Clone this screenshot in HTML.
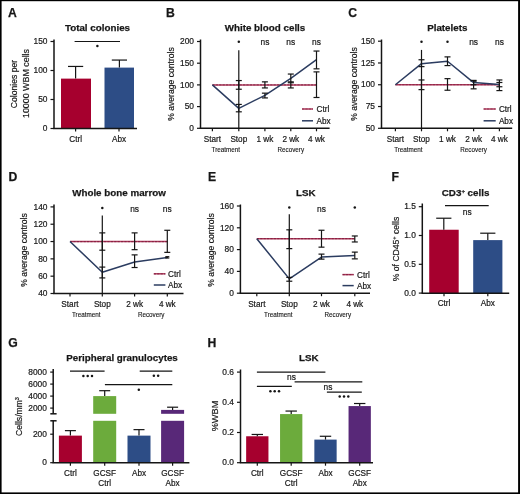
<!DOCTYPE html><html><head><meta charset="utf-8"><style>html,body{margin:0;padding:0;background:#fff}svg{display:block;will-change:transform;font-family:"Liberation Sans",sans-serif} text{stroke:#222;stroke-width:0.2px} text.sub{stroke-width:0.12px} text[font-weight=bold]{stroke-width:0.25px}</style></head><body><svg width="520" height="494" viewBox="0 0 520 494" font-family="Liberation Sans, sans-serif">
<rect x="0.00" y="0.00" width="520.00" height="494.00" fill="#fff"/>
<rect x="0.00" y="0.00" width="520.00" height="1.20" fill="#000"/>
<rect x="0.00" y="0.00" width="1.60" height="494.00" fill="#000"/>
<rect x="518.10" y="0.00" width="1.90" height="494.00" fill="#000"/>
<rect x="0.00" y="492.40" width="520.00" height="1.60" fill="#000"/>
<text x="8.00" y="16.60" font-size="12.2" text-anchor="start" font-weight="bold" fill="#151515" >A</text>
<text x="97.50" y="30.80" font-size="9.8" text-anchor="middle" font-weight="bold" fill="#151515" >Total colonies</text>
<line x1="54.00" y1="39.50" x2="54.00" y2="128.50" stroke="#151515" stroke-width="1.5" />
<line x1="50.50" y1="41.50" x2="54.00" y2="41.50" stroke="#151515" stroke-width="1.2" />
<text x="47.50" y="44.20" font-size="8.4" text-anchor="end" fill="#151515" >150</text>
<line x1="50.50" y1="70.50" x2="54.00" y2="70.50" stroke="#151515" stroke-width="1.2" />
<text x="47.50" y="73.20" font-size="8.4" text-anchor="end" fill="#151515" >100</text>
<line x1="50.50" y1="99.50" x2="54.00" y2="99.50" stroke="#151515" stroke-width="1.2" />
<text x="47.50" y="102.20" font-size="8.4" text-anchor="end" fill="#151515" >50</text>
<line x1="50.50" y1="128.50" x2="54.00" y2="128.50" stroke="#151515" stroke-width="1.2" />
<text x="47.50" y="131.20" font-size="8.4" text-anchor="end" fill="#151515" >0</text>
<rect x="61.00" y="78.62" width="30.00" height="49.88" fill="#a6002e"/>
<rect x="104.50" y="67.60" width="29.50" height="60.90" fill="#2d4d86"/>
<line x1="75.60" y1="78.62" x2="75.60" y2="66.44" stroke="#151515" stroke-width="1.2" />
<line x1="68.00" y1="66.44" x2="83.20" y2="66.44" stroke="#151515" stroke-width="1.2" />
<line x1="119.40" y1="67.60" x2="119.40" y2="60.06" stroke="#151515" stroke-width="1.2" />
<line x1="111.80" y1="60.06" x2="127.00" y2="60.06" stroke="#151515" stroke-width="1.2" />
<line x1="53.30" y1="128.50" x2="137.00" y2="128.50" stroke="#151515" stroke-width="1.5" />
<line x1="75.60" y1="128.50" x2="75.60" y2="131.50" stroke="#151515" stroke-width="1.2" />
<line x1="119.00" y1="128.50" x2="119.00" y2="131.50" stroke="#151515" stroke-width="1.2" />
<line x1="74.60" y1="41.50" x2="120.00" y2="41.50" stroke="#151515" stroke-width="1.2" />
<circle cx="97.40" cy="46.00" r="1.25" fill="#151515"/>
<text x="75.60" y="141.50" font-size="8.2" text-anchor="middle" fill="#151515" >Ctrl</text>
<text x="119.00" y="141.50" font-size="8.2" text-anchor="middle" fill="#151515" >Abx</text>
<text transform="translate(17.00,84.00) rotate(-90)" font-size="8.6" text-anchor="middle" fill="#151515">Colonies per</text>
<text transform="translate(29.20,83.50) rotate(-90)" font-size="8.9" text-anchor="middle" fill="#151515">10000 WBM cells</text>
<text x="166.00" y="16.60" font-size="12.2" text-anchor="start" font-weight="bold" fill="#151515" >B</text>
<text x="265.00" y="30.80" font-size="9.8" text-anchor="middle" font-weight="bold" fill="#151515" >White blood cells</text>
<line x1="200.50" y1="39.50" x2="200.50" y2="128.30" stroke="#151515" stroke-width="1.5" />
<line x1="197.00" y1="41.50" x2="200.50" y2="41.50" stroke="#151515" stroke-width="1.2" />
<text x="194.00" y="44.20" font-size="8.4" text-anchor="end" fill="#151515" >200</text>
<line x1="197.00" y1="63.20" x2="200.50" y2="63.20" stroke="#151515" stroke-width="1.2" />
<text x="194.00" y="65.90" font-size="8.4" text-anchor="end" fill="#151515" >150</text>
<line x1="197.00" y1="84.90" x2="200.50" y2="84.90" stroke="#151515" stroke-width="1.2" />
<text x="194.00" y="87.60" font-size="8.4" text-anchor="end" fill="#151515" >100</text>
<line x1="197.00" y1="106.60" x2="200.50" y2="106.60" stroke="#151515" stroke-width="1.2" />
<text x="194.00" y="109.30" font-size="8.4" text-anchor="end" fill="#151515" >50</text>
<line x1="197.00" y1="128.30" x2="200.50" y2="128.30" stroke="#151515" stroke-width="1.2" />
<text x="194.00" y="131.00" font-size="8.4" text-anchor="end" fill="#151515" >0</text>
<line x1="199.80" y1="128.30" x2="329.60" y2="128.30" stroke="#151515" stroke-width="1.5" />
<line x1="212.40" y1="128.30" x2="212.40" y2="131.30" stroke="#151515" stroke-width="1.2" />
<line x1="238.80" y1="128.30" x2="238.80" y2="131.30" stroke="#151515" stroke-width="1.2" />
<line x1="264.90" y1="128.30" x2="264.90" y2="131.30" stroke="#151515" stroke-width="1.2" />
<line x1="290.80" y1="128.30" x2="290.80" y2="131.30" stroke="#151515" stroke-width="1.2" />
<line x1="316.50" y1="128.30" x2="316.50" y2="131.30" stroke="#151515" stroke-width="1.2" />
<line x1="212.40" y1="84.90" x2="316.50" y2="84.90" stroke="#b03a5c" stroke-width="1.5" />
<line x1="212.40" y1="84.90" x2="316.50" y2="84.90" stroke="#6a1030" stroke-width="1.2000000000000002" stroke-dasharray="2.2 1.2" opacity="0.55"/>
<line x1="238.80" y1="50.18" x2="238.80" y2="128.30" stroke="#151515" stroke-width="1.2" />
<line x1="238.80" y1="80.56" x2="238.80" y2="89.24" stroke="#151515" stroke-width="1.2" />
<line x1="235.80" y1="80.56" x2="241.80" y2="80.56" stroke="#151515" stroke-width="1.2" />
<line x1="235.80" y1="89.24" x2="241.80" y2="89.24" stroke="#151515" stroke-width="1.2" />
<line x1="264.90" y1="81.86" x2="264.90" y2="87.94" stroke="#151515" stroke-width="1.2" />
<line x1="261.90" y1="81.86" x2="267.90" y2="81.86" stroke="#151515" stroke-width="1.2" />
<line x1="261.90" y1="87.94" x2="267.90" y2="87.94" stroke="#151515" stroke-width="1.2" />
<line x1="290.80" y1="81.86" x2="290.80" y2="87.94" stroke="#151515" stroke-width="1.2" />
<line x1="287.80" y1="81.86" x2="293.80" y2="81.86" stroke="#151515" stroke-width="1.2" />
<line x1="287.80" y1="87.94" x2="293.80" y2="87.94" stroke="#151515" stroke-width="1.2" />
<line x1="316.50" y1="71.88" x2="316.50" y2="97.49" stroke="#151515" stroke-width="1.2" />
<line x1="313.50" y1="71.88" x2="319.50" y2="71.88" stroke="#151515" stroke-width="1.2" />
<line x1="313.50" y1="97.49" x2="319.50" y2="97.49" stroke="#151515" stroke-width="1.2" />
<polyline points="212.40,84.90 238.80,108.34 264.90,95.32 290.80,78.39 316.50,59.73" fill="none" stroke="#2b3c60" stroke-width="1.5" stroke-linejoin="round"/>
<line x1="238.80" y1="104.43" x2="238.80" y2="111.81" stroke="#151515" stroke-width="1.2" />
<line x1="235.80" y1="104.43" x2="241.80" y2="104.43" stroke="#151515" stroke-width="1.2" />
<line x1="235.80" y1="111.81" x2="241.80" y2="111.81" stroke="#151515" stroke-width="1.2" />
<line x1="264.90" y1="93.15" x2="264.90" y2="97.92" stroke="#151515" stroke-width="1.2" />
<line x1="261.90" y1="93.15" x2="267.90" y2="93.15" stroke="#151515" stroke-width="1.2" />
<line x1="261.90" y1="97.92" x2="267.90" y2="97.92" stroke="#151515" stroke-width="1.2" />
<line x1="290.80" y1="74.05" x2="290.80" y2="82.73" stroke="#151515" stroke-width="1.2" />
<line x1="287.80" y1="74.05" x2="293.80" y2="74.05" stroke="#151515" stroke-width="1.2" />
<line x1="287.80" y1="82.73" x2="293.80" y2="82.73" stroke="#151515" stroke-width="1.2" />
<line x1="316.50" y1="51.05" x2="316.50" y2="68.84" stroke="#151515" stroke-width="1.2" />
<line x1="313.50" y1="51.05" x2="319.50" y2="51.05" stroke="#151515" stroke-width="1.2" />
<line x1="313.50" y1="68.84" x2="319.50" y2="68.84" stroke="#151515" stroke-width="1.2" />
<circle cx="238.80" cy="41.80" r="1.25" fill="#151515"/>
<text x="264.90" y="45.00" font-size="8.4" text-anchor="middle" fill="#151515" >ns</text>
<text x="290.80" y="45.00" font-size="8.4" text-anchor="middle" fill="#151515" >ns</text>
<text x="316.50" y="45.00" font-size="8.4" text-anchor="middle" fill="#151515" >ns</text>
<text x="212.40" y="141.50" font-size="8.2" text-anchor="middle" fill="#151515" >Start</text>
<text x="238.80" y="141.50" font-size="8.2" text-anchor="middle" fill="#151515" >Stop</text>
<text x="264.90" y="141.50" font-size="8.2" text-anchor="middle" fill="#151515" >1 wk</text>
<text x="290.80" y="141.50" font-size="8.2" text-anchor="middle" fill="#151515" >2 wk</text>
<text x="316.50" y="141.50" font-size="8.2" text-anchor="middle" fill="#151515" >4 wk</text>
<text x="225.80" y="152.30" font-size="6.3" text-anchor="middle" fill="#151515"  class="sub">Treatment</text>
<text x="290.80" y="152.30" font-size="6.3" text-anchor="middle" fill="#151515"  class="sub">Recovery</text>
<line x1="302.00" y1="109.00" x2="313.00" y2="109.00" stroke="#b03a5c" stroke-width="1.5" />
<line x1="302.00" y1="109.00" x2="313.00" y2="109.00" stroke="#6a1030" stroke-width="1.2000000000000002" stroke-dasharray="2.2 1.2" opacity="0.55"/>
<text x="316.50" y="112.00" font-size="8.2" text-anchor="start" fill="#151515" >Ctrl</text>
<line x1="302.00" y1="120.80" x2="313.00" y2="120.80" stroke="#2b3c60" stroke-width="1.5" />
<text x="316.50" y="123.80" font-size="8.2" text-anchor="start" fill="#151515" >Abx</text>
<text transform="translate(174.00,84.00) rotate(-90)" font-size="8.6" text-anchor="middle" fill="#151515">% average controls</text>
<text x="348.30" y="16.60" font-size="12.2" text-anchor="start" font-weight="bold" fill="#151515" >C</text>
<text x="447.30" y="30.80" font-size="9.8" text-anchor="middle" font-weight="bold" fill="#151515" >Platelets</text>
<line x1="381.50" y1="39.50" x2="381.50" y2="128.30" stroke="#151515" stroke-width="1.5" />
<line x1="378.00" y1="41.20" x2="381.50" y2="41.20" stroke="#151515" stroke-width="1.2" />
<text x="375.00" y="43.90" font-size="8.4" text-anchor="end" fill="#151515" >150</text>
<line x1="378.00" y1="62.98" x2="381.50" y2="62.98" stroke="#151515" stroke-width="1.2" />
<text x="375.00" y="65.68" font-size="8.4" text-anchor="end" fill="#151515" >125</text>
<line x1="378.00" y1="84.75" x2="381.50" y2="84.75" stroke="#151515" stroke-width="1.2" />
<text x="375.00" y="87.45" font-size="8.4" text-anchor="end" fill="#151515" >100</text>
<line x1="378.00" y1="106.53" x2="381.50" y2="106.53" stroke="#151515" stroke-width="1.2" />
<text x="375.00" y="109.23" font-size="8.4" text-anchor="end" fill="#151515" >75</text>
<line x1="378.00" y1="128.30" x2="381.50" y2="128.30" stroke="#151515" stroke-width="1.2" />
<text x="375.00" y="131.00" font-size="8.4" text-anchor="end" fill="#151515" >50</text>
<line x1="380.80" y1="128.30" x2="512.20" y2="128.30" stroke="#151515" stroke-width="1.5" />
<line x1="395.40" y1="128.30" x2="395.40" y2="131.30" stroke="#151515" stroke-width="1.2" />
<line x1="421.50" y1="128.30" x2="421.50" y2="131.30" stroke="#151515" stroke-width="1.2" />
<line x1="447.50" y1="128.30" x2="447.50" y2="131.30" stroke="#151515" stroke-width="1.2" />
<line x1="473.60" y1="128.30" x2="473.60" y2="131.30" stroke="#151515" stroke-width="1.2" />
<line x1="499.40" y1="128.30" x2="499.40" y2="131.30" stroke="#151515" stroke-width="1.2" />
<line x1="395.40" y1="84.75" x2="499.40" y2="84.75" stroke="#b03a5c" stroke-width="1.5" />
<line x1="395.40" y1="84.75" x2="499.40" y2="84.75" stroke="#6a1030" stroke-width="1.2000000000000002" stroke-dasharray="2.2 1.2" opacity="0.55"/>
<line x1="421.50" y1="49.91" x2="421.50" y2="128.30" stroke="#151515" stroke-width="1.2" />
<line x1="421.50" y1="79.96" x2="421.50" y2="89.63" stroke="#151515" stroke-width="1.2" />
<line x1="418.50" y1="79.96" x2="424.50" y2="79.96" stroke="#151515" stroke-width="1.2" />
<line x1="418.50" y1="89.63" x2="424.50" y2="89.63" stroke="#151515" stroke-width="1.2" />
<line x1="447.50" y1="78.65" x2="447.50" y2="90.24" stroke="#151515" stroke-width="1.2" />
<line x1="444.50" y1="78.65" x2="450.50" y2="78.65" stroke="#151515" stroke-width="1.2" />
<line x1="444.50" y1="90.24" x2="450.50" y2="90.24" stroke="#151515" stroke-width="1.2" />
<line x1="473.60" y1="81.27" x2="473.60" y2="88.84" stroke="#151515" stroke-width="1.2" />
<line x1="470.60" y1="81.27" x2="476.60" y2="81.27" stroke="#151515" stroke-width="1.2" />
<line x1="470.60" y1="88.84" x2="476.60" y2="88.84" stroke="#151515" stroke-width="1.2" />
<line x1="499.40" y1="79.96" x2="499.40" y2="90.59" stroke="#151515" stroke-width="1.2" />
<line x1="496.40" y1="79.96" x2="502.40" y2="79.96" stroke="#151515" stroke-width="1.2" />
<line x1="496.40" y1="90.59" x2="502.40" y2="90.59" stroke="#151515" stroke-width="1.2" />
<polyline points="395.40,84.75 421.50,63.67 447.50,61.23 473.60,82.57 499.40,84.58" fill="none" stroke="#2b3c60" stroke-width="1.5" stroke-linejoin="round"/>
<line x1="421.50" y1="59.75" x2="421.50" y2="66.63" stroke="#151515" stroke-width="1.2" />
<line x1="418.50" y1="59.75" x2="424.50" y2="59.75" stroke="#151515" stroke-width="1.2" />
<line x1="418.50" y1="66.63" x2="424.50" y2="66.63" stroke="#151515" stroke-width="1.2" />
<line x1="447.50" y1="56.88" x2="447.50" y2="65.59" stroke="#151515" stroke-width="1.2" />
<line x1="444.50" y1="56.88" x2="450.50" y2="56.88" stroke="#151515" stroke-width="1.2" />
<line x1="444.50" y1="65.59" x2="450.50" y2="65.59" stroke="#151515" stroke-width="1.2" />
<line x1="473.60" y1="80.40" x2="473.60" y2="84.75" stroke="#151515" stroke-width="1.2" />
<line x1="470.60" y1="80.40" x2="476.60" y2="80.40" stroke="#151515" stroke-width="1.2" />
<line x1="470.60" y1="84.75" x2="476.60" y2="84.75" stroke="#151515" stroke-width="1.2" />
<line x1="499.40" y1="82.49" x2="499.40" y2="86.75" stroke="#151515" stroke-width="1.2" />
<line x1="496.40" y1="82.49" x2="502.40" y2="82.49" stroke="#151515" stroke-width="1.2" />
<line x1="496.40" y1="86.75" x2="502.40" y2="86.75" stroke="#151515" stroke-width="1.2" />
<circle cx="421.50" cy="41.80" r="1.25" fill="#151515"/>
<circle cx="447.50" cy="41.80" r="1.25" fill="#151515"/>
<text x="473.60" y="45.00" font-size="8.4" text-anchor="middle" fill="#151515" >ns</text>
<text x="499.40" y="45.00" font-size="8.4" text-anchor="middle" fill="#151515" >ns</text>
<text x="395.40" y="141.50" font-size="8.2" text-anchor="middle" fill="#151515" >Start</text>
<text x="421.50" y="141.50" font-size="8.2" text-anchor="middle" fill="#151515" >Stop</text>
<text x="447.50" y="141.50" font-size="8.2" text-anchor="middle" fill="#151515" >1 wk</text>
<text x="473.60" y="141.50" font-size="8.2" text-anchor="middle" fill="#151515" >2 wk</text>
<text x="499.40" y="141.50" font-size="8.2" text-anchor="middle" fill="#151515" >4 wk</text>
<text x="408.40" y="152.30" font-size="6.3" text-anchor="middle" fill="#151515"  class="sub">Treatment</text>
<text x="473.60" y="152.30" font-size="6.3" text-anchor="middle" fill="#151515"  class="sub">Recovery</text>
<line x1="483.60" y1="109.00" x2="495.70" y2="109.00" stroke="#b03a5c" stroke-width="1.5" />
<line x1="483.60" y1="109.00" x2="495.70" y2="109.00" stroke="#6a1030" stroke-width="1.2000000000000002" stroke-dasharray="2.2 1.2" opacity="0.55"/>
<text x="498.90" y="112.00" font-size="8.2" text-anchor="start" fill="#151515" >Ctrl</text>
<line x1="483.60" y1="120.80" x2="495.70" y2="120.80" stroke="#2b3c60" stroke-width="1.5" />
<text x="498.90" y="123.80" font-size="8.2" text-anchor="start" fill="#151515" >Abx</text>
<text transform="translate(356.50,84.00) rotate(-90)" font-size="8.6" text-anchor="middle" fill="#151515">% average controls</text>
<text x="8.40" y="181.40" font-size="12.2" text-anchor="start" font-weight="bold" fill="#151515" >D</text>
<text x="119.00" y="196.20" font-size="9.8" text-anchor="middle" font-weight="bold" fill="#151515" >Whole bone marrow</text>
<line x1="54.00" y1="204.50" x2="54.00" y2="293.50" stroke="#151515" stroke-width="1.5" />
<line x1="50.50" y1="206.90" x2="54.00" y2="206.90" stroke="#151515" stroke-width="1.2" />
<text x="47.50" y="209.60" font-size="8.4" text-anchor="end" fill="#151515" >140</text>
<line x1="50.50" y1="224.22" x2="54.00" y2="224.22" stroke="#151515" stroke-width="1.2" />
<text x="47.50" y="226.92" font-size="8.4" text-anchor="end" fill="#151515" >120</text>
<line x1="50.50" y1="241.54" x2="54.00" y2="241.54" stroke="#151515" stroke-width="1.2" />
<text x="47.50" y="244.24" font-size="8.4" text-anchor="end" fill="#151515" >100</text>
<line x1="50.50" y1="258.86" x2="54.00" y2="258.86" stroke="#151515" stroke-width="1.2" />
<text x="47.50" y="261.56" font-size="8.4" text-anchor="end" fill="#151515" >80</text>
<line x1="50.50" y1="276.18" x2="54.00" y2="276.18" stroke="#151515" stroke-width="1.2" />
<text x="47.50" y="278.88" font-size="8.4" text-anchor="end" fill="#151515" >60</text>
<line x1="50.50" y1="293.50" x2="54.00" y2="293.50" stroke="#151515" stroke-width="1.2" />
<text x="47.50" y="296.20" font-size="8.4" text-anchor="end" fill="#151515" >40</text>
<line x1="53.30" y1="293.50" x2="183.50" y2="293.50" stroke="#151515" stroke-width="1.5" />
<line x1="70.00" y1="293.50" x2="70.00" y2="296.50" stroke="#151515" stroke-width="1.2" />
<line x1="102.30" y1="293.50" x2="102.30" y2="296.50" stroke="#151515" stroke-width="1.2" />
<line x1="134.60" y1="293.50" x2="134.60" y2="296.50" stroke="#151515" stroke-width="1.2" />
<line x1="167.30" y1="293.50" x2="167.30" y2="296.50" stroke="#151515" stroke-width="1.2" />
<line x1="70.00" y1="241.54" x2="167.30" y2="241.54" stroke="#b03a5c" stroke-width="1.5" />
<line x1="70.00" y1="241.54" x2="167.30" y2="241.54" stroke="#6a1030" stroke-width="1.2000000000000002" stroke-dasharray="2.2 1.2" opacity="0.55"/>
<line x1="102.30" y1="215.56" x2="102.30" y2="293.50" stroke="#151515" stroke-width="1.2" />
<line x1="102.30" y1="232.88" x2="102.30" y2="250.20" stroke="#151515" stroke-width="1.2" />
<line x1="99.30" y1="232.88" x2="105.30" y2="232.88" stroke="#151515" stroke-width="1.2" />
<line x1="99.30" y1="250.20" x2="105.30" y2="250.20" stroke="#151515" stroke-width="1.2" />
<line x1="134.60" y1="232.88" x2="134.60" y2="249.68" stroke="#151515" stroke-width="1.2" />
<line x1="131.60" y1="232.88" x2="137.60" y2="232.88" stroke="#151515" stroke-width="1.2" />
<line x1="131.60" y1="249.68" x2="137.60" y2="249.68" stroke="#151515" stroke-width="1.2" />
<line x1="167.30" y1="230.28" x2="167.30" y2="252.37" stroke="#151515" stroke-width="1.2" />
<line x1="164.30" y1="230.28" x2="170.30" y2="230.28" stroke="#151515" stroke-width="1.2" />
<line x1="164.30" y1="252.37" x2="170.30" y2="252.37" stroke="#151515" stroke-width="1.2" />
<polyline points="70.00,241.54 102.30,272.20 134.60,262.06 167.30,257.56" fill="none" stroke="#2b3c60" stroke-width="1.5" stroke-linejoin="round"/>
<line x1="102.30" y1="267.09" x2="102.30" y2="277.91" stroke="#151515" stroke-width="1.2" />
<line x1="99.30" y1="267.09" x2="105.30" y2="267.09" stroke="#151515" stroke-width="1.2" />
<line x1="99.30" y1="277.91" x2="105.30" y2="277.91" stroke="#151515" stroke-width="1.2" />
<line x1="134.60" y1="254.88" x2="134.60" y2="267.52" stroke="#151515" stroke-width="1.2" />
<line x1="131.60" y1="254.88" x2="137.60" y2="254.88" stroke="#151515" stroke-width="1.2" />
<line x1="131.60" y1="267.52" x2="137.60" y2="267.52" stroke="#151515" stroke-width="1.2" />
<line x1="167.30" y1="256.69" x2="167.30" y2="257.99" stroke="#151515" stroke-width="1.2" />
<line x1="165.30" y1="256.69" x2="169.30" y2="256.69" stroke="#151515" stroke-width="1.2" />
<line x1="165.30" y1="257.99" x2="169.30" y2="257.99" stroke="#151515" stroke-width="1.2" />
<circle cx="102.30" cy="208.00" r="1.25" fill="#151515"/>
<text x="134.60" y="212.00" font-size="8.4" text-anchor="middle" fill="#151515" >ns</text>
<text x="167.30" y="212.00" font-size="8.4" text-anchor="middle" fill="#151515" >ns</text>
<text x="70.00" y="307.00" font-size="8.2" text-anchor="middle" fill="#151515" >Start</text>
<text x="102.30" y="307.00" font-size="8.2" text-anchor="middle" fill="#151515" >Stop</text>
<text x="134.60" y="307.00" font-size="8.2" text-anchor="middle" fill="#151515" >2 wk</text>
<text x="167.30" y="307.00" font-size="8.2" text-anchor="middle" fill="#151515" >4 wk</text>
<text x="86.20" y="317.40" font-size="6.3" text-anchor="middle" fill="#151515"  class="sub">Treatment</text>
<text x="151.20" y="317.40" font-size="6.3" text-anchor="middle" fill="#151515"  class="sub">Recovery</text>
<line x1="153.80" y1="273.80" x2="165.40" y2="273.80" stroke="#b03a5c" stroke-width="1.5" />
<line x1="153.80" y1="273.80" x2="165.40" y2="273.80" stroke="#6a1030" stroke-width="1.2000000000000002" stroke-dasharray="2.2 1.2" opacity="0.55"/>
<text x="168.00" y="276.80" font-size="8.2" text-anchor="start" fill="#151515" >Ctrl</text>
<line x1="153.80" y1="285.00" x2="165.40" y2="285.00" stroke="#2b3c60" stroke-width="1.5" />
<text x="168.00" y="288.00" font-size="8.2" text-anchor="start" fill="#151515" >Abx</text>
<text transform="translate(27.00,250.00) rotate(-90)" font-size="8.6" text-anchor="middle" fill="#151515">% average controls</text>
<text x="208.00" y="181.40" font-size="12.2" text-anchor="start" font-weight="bold" fill="#151515" >E</text>
<text x="305.80" y="196.20" font-size="9.8" text-anchor="middle" font-weight="bold" fill="#151515" >LSK</text>
<line x1="240.40" y1="204.50" x2="240.40" y2="293.20" stroke="#151515" stroke-width="1.5" />
<line x1="236.90" y1="206.00" x2="240.40" y2="206.00" stroke="#151515" stroke-width="1.2" />
<text x="233.90" y="208.70" font-size="8.4" text-anchor="end" fill="#151515" >160</text>
<line x1="236.90" y1="227.80" x2="240.40" y2="227.80" stroke="#151515" stroke-width="1.2" />
<text x="233.90" y="230.50" font-size="8.4" text-anchor="end" fill="#151515" >120</text>
<line x1="236.90" y1="249.60" x2="240.40" y2="249.60" stroke="#151515" stroke-width="1.2" />
<text x="233.90" y="252.30" font-size="8.4" text-anchor="end" fill="#151515" >80</text>
<line x1="236.90" y1="271.40" x2="240.40" y2="271.40" stroke="#151515" stroke-width="1.2" />
<text x="233.90" y="274.10" font-size="8.4" text-anchor="end" fill="#151515" >40</text>
<line x1="236.90" y1="293.20" x2="240.40" y2="293.20" stroke="#151515" stroke-width="1.2" />
<text x="233.90" y="295.90" font-size="8.4" text-anchor="end" fill="#151515" >0</text>
<line x1="239.70" y1="293.20" x2="370.00" y2="293.20" stroke="#151515" stroke-width="1.5" />
<line x1="256.80" y1="293.20" x2="256.80" y2="296.20" stroke="#151515" stroke-width="1.2" />
<line x1="289.30" y1="293.20" x2="289.30" y2="296.20" stroke="#151515" stroke-width="1.2" />
<line x1="321.50" y1="293.20" x2="321.50" y2="296.20" stroke="#151515" stroke-width="1.2" />
<line x1="354.80" y1="293.20" x2="354.80" y2="296.20" stroke="#151515" stroke-width="1.2" />
<line x1="256.80" y1="238.70" x2="354.80" y2="238.70" stroke="#b03a5c" stroke-width="1.5" />
<line x1="256.80" y1="238.70" x2="354.80" y2="238.70" stroke="#6a1030" stroke-width="1.2000000000000002" stroke-dasharray="2.2 1.2" opacity="0.55"/>
<line x1="289.30" y1="214.17" x2="289.30" y2="293.20" stroke="#151515" stroke-width="1.2" />
<line x1="289.30" y1="229.82" x2="289.30" y2="248.62" stroke="#151515" stroke-width="1.2" />
<line x1="286.30" y1="229.82" x2="292.30" y2="229.82" stroke="#151515" stroke-width="1.2" />
<line x1="286.30" y1="248.62" x2="292.30" y2="248.62" stroke="#151515" stroke-width="1.2" />
<line x1="321.50" y1="230.25" x2="321.50" y2="247.15" stroke="#151515" stroke-width="1.2" />
<line x1="318.50" y1="230.25" x2="324.50" y2="230.25" stroke="#151515" stroke-width="1.2" />
<line x1="318.50" y1="247.15" x2="324.50" y2="247.15" stroke="#151515" stroke-width="1.2" />
<line x1="354.80" y1="235.97" x2="354.80" y2="241.97" stroke="#151515" stroke-width="1.2" />
<line x1="351.80" y1="235.97" x2="357.80" y2="235.97" stroke="#151515" stroke-width="1.2" />
<line x1="351.80" y1="241.97" x2="357.80" y2="241.97" stroke="#151515" stroke-width="1.2" />
<polyline points="256.80,238.70 289.30,278.87 321.50,257.07 354.80,255.59" fill="none" stroke="#2b3c60" stroke-width="1.5" stroke-linejoin="round"/>
<line x1="289.30" y1="277.39" x2="289.30" y2="281.21" stroke="#151515" stroke-width="1.2" />
<line x1="286.30" y1="277.39" x2="292.30" y2="277.39" stroke="#151515" stroke-width="1.2" />
<line x1="286.30" y1="281.21" x2="292.30" y2="281.21" stroke="#151515" stroke-width="1.2" />
<line x1="321.50" y1="254.12" x2="321.50" y2="259.14" stroke="#151515" stroke-width="1.2" />
<line x1="318.50" y1="254.12" x2="324.50" y2="254.12" stroke="#151515" stroke-width="1.2" />
<line x1="318.50" y1="259.14" x2="324.50" y2="259.14" stroke="#151515" stroke-width="1.2" />
<line x1="354.80" y1="252.11" x2="354.80" y2="258.87" stroke="#151515" stroke-width="1.2" />
<line x1="351.80" y1="252.11" x2="357.80" y2="252.11" stroke="#151515" stroke-width="1.2" />
<line x1="351.80" y1="258.87" x2="357.80" y2="258.87" stroke="#151515" stroke-width="1.2" />
<circle cx="289.30" cy="207.40" r="1.25" fill="#151515"/>
<circle cx="354.80" cy="207.40" r="1.25" fill="#151515"/>
<text x="321.50" y="212.00" font-size="8.4" text-anchor="middle" fill="#151515" >ns</text>
<text x="256.80" y="307.00" font-size="8.2" text-anchor="middle" fill="#151515" >Start</text>
<text x="289.30" y="307.00" font-size="8.2" text-anchor="middle" fill="#151515" >Stop</text>
<text x="321.50" y="307.00" font-size="8.2" text-anchor="middle" fill="#151515" >2 wk</text>
<text x="354.80" y="307.00" font-size="8.2" text-anchor="middle" fill="#151515" >4 wk</text>
<text x="278.30" y="317.40" font-size="6.3" text-anchor="middle" fill="#151515"  class="sub">Treatment</text>
<text x="337.80" y="317.40" font-size="6.3" text-anchor="middle" fill="#151515"  class="sub">Recovery</text>
<line x1="342.50" y1="274.60" x2="353.70" y2="274.60" stroke="#b03a5c" stroke-width="1.5" />
<line x1="342.50" y1="274.60" x2="353.70" y2="274.60" stroke="#6a1030" stroke-width="1.2000000000000002" stroke-dasharray="2.2 1.2" opacity="0.55"/>
<text x="357.00" y="277.60" font-size="8.2" text-anchor="start" fill="#151515" >Ctrl</text>
<line x1="342.50" y1="285.60" x2="353.70" y2="285.60" stroke="#2b3c60" stroke-width="1.5" />
<text x="357.00" y="288.60" font-size="8.2" text-anchor="start" fill="#151515" >Abx</text>
<text transform="translate(214.00,250.00) rotate(-90)" font-size="8.6" text-anchor="middle" fill="#151515">% average controls</text>
<text x="391.50" y="181.40" font-size="12.2" text-anchor="start" font-weight="bold" fill="#151515" >F</text>
<text x="465.60" y="196.00" font-size="9.8" text-anchor="middle" font-weight="bold" fill="#151515" >CD3<tspan font-size="6" dy="-3.5">+</tspan><tspan dy="3.5"> cells</tspan></text>
<line x1="422.30" y1="203.50" x2="422.30" y2="293.20" stroke="#151515" stroke-width="1.5" />
<line x1="418.80" y1="206.70" x2="422.30" y2="206.70" stroke="#151515" stroke-width="1.2" />
<text x="415.80" y="209.40" font-size="8.4" text-anchor="end" fill="#151515" >1.5</text>
<line x1="418.80" y1="235.50" x2="422.30" y2="235.50" stroke="#151515" stroke-width="1.2" />
<text x="415.80" y="238.20" font-size="8.4" text-anchor="end" fill="#151515" >1.0</text>
<line x1="418.80" y1="264.30" x2="422.30" y2="264.30" stroke="#151515" stroke-width="1.2" />
<text x="415.80" y="267.00" font-size="8.4" text-anchor="end" fill="#151515" >0.5</text>
<line x1="418.80" y1="293.10" x2="422.30" y2="293.10" stroke="#151515" stroke-width="1.2" />
<text x="415.80" y="295.80" font-size="8.4" text-anchor="end" fill="#151515" >0.0</text>
<rect x="429.20" y="229.74" width="29.50" height="63.46" fill="#a6002e"/>
<rect x="473.20" y="240.11" width="29.20" height="53.09" fill="#2d4d86"/>
<line x1="443.80" y1="229.74" x2="443.80" y2="218.22" stroke="#151515" stroke-width="1.2" />
<line x1="436.20" y1="218.22" x2="451.40" y2="218.22" stroke="#151515" stroke-width="1.2" />
<line x1="487.80" y1="240.11" x2="487.80" y2="233.20" stroke="#151515" stroke-width="1.2" />
<line x1="480.20" y1="233.20" x2="495.40" y2="233.20" stroke="#151515" stroke-width="1.2" />
<line x1="421.60" y1="293.20" x2="509.20" y2="293.20" stroke="#151515" stroke-width="1.5" />
<line x1="444.00" y1="293.20" x2="444.00" y2="296.20" stroke="#151515" stroke-width="1.2" />
<line x1="487.80" y1="293.20" x2="487.80" y2="296.20" stroke="#151515" stroke-width="1.2" />
<line x1="445.00" y1="205.60" x2="488.70" y2="205.60" stroke="#151515" stroke-width="1.2" />
<text x="467.30" y="215.30" font-size="8.4" text-anchor="middle" fill="#151515" >ns</text>
<text x="444.00" y="306.00" font-size="8.2" text-anchor="middle" fill="#151515" >Ctrl</text>
<text x="487.80" y="306.00" font-size="8.2" text-anchor="middle" fill="#151515" >Abx</text>
<text transform="translate(398.50,249.00) rotate(-90)" font-size="8.6" text-anchor="middle" fill="#151515">% of CD45<tspan font-size="5.5" dy="-3">+</tspan><tspan dy="3"> cells</tspan></text>
<text x="8.20" y="346.80" font-size="12.2" text-anchor="start" font-weight="bold" fill="#151515" >G</text>
<text x="122.00" y="361.00" font-size="9.8" text-anchor="middle" font-weight="bold" fill="#151515" >Peripheral granulocytes</text>
<line x1="53.20" y1="369.00" x2="53.20" y2="413.80" stroke="#151515" stroke-width="1.5" />
<line x1="50.30" y1="413.80" x2="56.60" y2="413.80" stroke="#151515" stroke-width="1.5" />
<line x1="50.30" y1="420.80" x2="56.60" y2="420.80" stroke="#151515" stroke-width="1.5" />
<line x1="53.20" y1="420.80" x2="53.20" y2="462.70" stroke="#151515" stroke-width="1.5" />
<line x1="50.20" y1="372.10" x2="53.20" y2="372.10" stroke="#151515" stroke-width="1.2" />
<text x="46.90" y="374.80" font-size="8.4" text-anchor="end" fill="#151515" >8000</text>
<line x1="50.20" y1="384.10" x2="53.20" y2="384.10" stroke="#151515" stroke-width="1.2" />
<text x="46.90" y="386.80" font-size="8.4" text-anchor="end" fill="#151515" >6000</text>
<line x1="50.20" y1="396.10" x2="53.20" y2="396.10" stroke="#151515" stroke-width="1.2" />
<text x="46.90" y="398.80" font-size="8.4" text-anchor="end" fill="#151515" >4000</text>
<line x1="50.20" y1="408.10" x2="53.20" y2="408.10" stroke="#151515" stroke-width="1.2" />
<text x="46.90" y="410.80" font-size="8.4" text-anchor="end" fill="#151515" >2000</text>
<line x1="50.20" y1="434.20" x2="53.20" y2="434.20" stroke="#151515" stroke-width="1.2" />
<text x="46.90" y="436.90" font-size="8.4" text-anchor="end" fill="#151515" >200</text>
<line x1="50.20" y1="462.70" x2="53.20" y2="462.70" stroke="#151515" stroke-width="1.2" />
<text x="46.90" y="465.40" font-size="8.4" text-anchor="end" fill="#151515" >0</text>
<rect x="58.90" y="435.62" width="23.00" height="27.07" fill="#a6002e"/>
<rect x="127.50" y="435.62" width="23.00" height="27.07" fill="#2d4d86"/>
<rect x="93.20" y="396.10" width="23.00" height="17.70" fill="#6cab3c"/>
<rect x="93.20" y="420.80" width="23.00" height="41.90" fill="#6cab3c"/>
<rect x="161.10" y="409.90" width="23.00" height="3.90" fill="#582878"/>
<rect x="161.10" y="420.80" width="23.00" height="41.90" fill="#582878"/>
<line x1="70.40" y1="435.62" x2="70.40" y2="430.64" stroke="#151515" stroke-width="1.2" />
<line x1="64.90" y1="430.64" x2="75.90" y2="430.64" stroke="#151515" stroke-width="1.2" />
<line x1="139.00" y1="435.62" x2="139.00" y2="429.64" stroke="#151515" stroke-width="1.2" />
<line x1="133.50" y1="429.64" x2="144.50" y2="429.64" stroke="#151515" stroke-width="1.2" />
<line x1="104.70" y1="396.10" x2="104.70" y2="390.70" stroke="#151515" stroke-width="1.2" />
<line x1="99.20" y1="390.70" x2="110.20" y2="390.70" stroke="#151515" stroke-width="1.2" />
<line x1="172.60" y1="409.90" x2="172.60" y2="407.20" stroke="#151515" stroke-width="1.2" />
<line x1="167.10" y1="407.20" x2="178.10" y2="407.20" stroke="#151515" stroke-width="1.2" />
<line x1="52.50" y1="462.70" x2="189.40" y2="462.70" stroke="#151515" stroke-width="1.5" />
<line x1="70.40" y1="462.70" x2="70.40" y2="465.70" stroke="#151515" stroke-width="1.2" />
<line x1="104.70" y1="462.70" x2="104.70" y2="465.70" stroke="#151515" stroke-width="1.2" />
<line x1="139.00" y1="462.70" x2="139.00" y2="465.70" stroke="#151515" stroke-width="1.2" />
<line x1="172.60" y1="462.70" x2="172.60" y2="465.70" stroke="#151515" stroke-width="1.2" />
<line x1="70.00" y1="371.20" x2="104.60" y2="371.20" stroke="#151515" stroke-width="1.25" />
<circle cx="83.40" cy="375.90" r="1.25" fill="#151515"/>
<circle cx="87.70" cy="375.90" r="1.25" fill="#151515"/>
<circle cx="92.00" cy="375.90" r="1.25" fill="#151515"/>
<line x1="139.70" y1="371.00" x2="172.30" y2="371.00" stroke="#151515" stroke-width="1.25" />
<circle cx="153.85" cy="375.80" r="1.25" fill="#151515"/>
<circle cx="158.15" cy="375.80" r="1.25" fill="#151515"/>
<line x1="104.90" y1="384.50" x2="172.30" y2="384.50" stroke="#151515" stroke-width="1.25" />
<circle cx="138.80" cy="389.80" r="1.25" fill="#151515"/>
<text x="70.40" y="475.50" font-size="8.2" text-anchor="middle" fill="#151515" >Ctrl</text>
<text x="104.70" y="475.50" font-size="8.2" text-anchor="middle" fill="#151515" >GCSF</text>
<text x="139.00" y="475.50" font-size="8.2" text-anchor="middle" fill="#151515" >Abx</text>
<text x="172.60" y="475.50" font-size="8.2" text-anchor="middle" fill="#151515" >GCSF</text>
<text x="104.70" y="485.50" font-size="8.2" text-anchor="middle" fill="#151515" >Ctrl</text>
<text x="172.60" y="485.50" font-size="8.2" text-anchor="middle" fill="#151515" >Abx</text>
<text transform="translate(22.30,416.50) rotate(-90)" font-size="8.6" text-anchor="middle" fill="#151515">Cells/mm<tspan font-size="5.5" dy="-3">3</tspan></text>
<text x="207.60" y="346.80" font-size="12.2" text-anchor="start" font-weight="bold" fill="#151515" >H</text>
<text x="308.80" y="361.00" font-size="9.8" text-anchor="middle" font-weight="bold" fill="#151515" >LSK</text>
<line x1="240.50" y1="369.50" x2="240.50" y2="462.70" stroke="#151515" stroke-width="1.5" />
<line x1="237.00" y1="372.10" x2="240.50" y2="372.10" stroke="#151515" stroke-width="1.2" />
<text x="234.00" y="374.80" font-size="8.4" text-anchor="end" fill="#151515" >0.6</text>
<line x1="237.00" y1="402.30" x2="240.50" y2="402.30" stroke="#151515" stroke-width="1.2" />
<text x="234.00" y="405.00" font-size="8.4" text-anchor="end" fill="#151515" >0.4</text>
<line x1="237.00" y1="432.50" x2="240.50" y2="432.50" stroke="#151515" stroke-width="1.2" />
<text x="234.00" y="435.20" font-size="8.4" text-anchor="end" fill="#151515" >0.2</text>
<line x1="237.00" y1="462.70" x2="240.50" y2="462.70" stroke="#151515" stroke-width="1.2" />
<text x="234.00" y="465.40" font-size="8.4" text-anchor="end" fill="#151515" >0.0</text>
<rect x="246.15" y="436.27" width="22.30" height="26.43" fill="#a6002e"/>
<rect x="280.05" y="414.08" width="22.30" height="48.62" fill="#6cab3c"/>
<rect x="314.35" y="439.60" width="22.30" height="23.10" fill="#2d4d86"/>
<rect x="348.55" y="406.07" width="22.30" height="56.62" fill="#582878"/>
<line x1="257.30" y1="436.27" x2="257.30" y2="434.46" stroke="#151515" stroke-width="1.2" />
<line x1="251.60" y1="434.46" x2="263.00" y2="434.46" stroke="#151515" stroke-width="1.2" />
<line x1="291.20" y1="414.08" x2="291.20" y2="411.06" stroke="#151515" stroke-width="1.2" />
<line x1="285.50" y1="411.06" x2="296.90" y2="411.06" stroke="#151515" stroke-width="1.2" />
<line x1="325.50" y1="439.60" x2="325.50" y2="436.27" stroke="#151515" stroke-width="1.2" />
<line x1="319.80" y1="436.27" x2="331.20" y2="436.27" stroke="#151515" stroke-width="1.2" />
<line x1="359.70" y1="406.07" x2="359.70" y2="403.51" stroke="#151515" stroke-width="1.2" />
<line x1="354.00" y1="403.51" x2="365.40" y2="403.51" stroke="#151515" stroke-width="1.2" />
<line x1="239.80" y1="462.70" x2="373.00" y2="462.70" stroke="#151515" stroke-width="1.5" />
<line x1="257.30" y1="462.70" x2="257.30" y2="465.70" stroke="#151515" stroke-width="1.2" />
<line x1="291.20" y1="462.70" x2="291.20" y2="465.70" stroke="#151515" stroke-width="1.2" />
<line x1="325.50" y1="462.70" x2="325.50" y2="465.70" stroke="#151515" stroke-width="1.2" />
<line x1="359.70" y1="462.70" x2="359.70" y2="465.70" stroke="#151515" stroke-width="1.2" />
<line x1="256.90" y1="372.00" x2="325.40" y2="372.00" stroke="#151515" stroke-width="1.25" />
<text x="291.50" y="379.70" font-size="8.4" text-anchor="middle" fill="#151515" >ns</text>
<line x1="294.60" y1="381.80" x2="362.30" y2="381.80" stroke="#151515" stroke-width="1.25" />
<text x="328.00" y="390.20" font-size="8.4" text-anchor="middle" fill="#151515" >ns</text>
<line x1="256.90" y1="386.30" x2="291.80" y2="386.30" stroke="#151515" stroke-width="1.25" />
<circle cx="270.40" cy="391.20" r="1.25" fill="#151515"/>
<circle cx="274.70" cy="391.20" r="1.25" fill="#151515"/>
<circle cx="279.00" cy="391.20" r="1.25" fill="#151515"/>
<line x1="326.90" y1="392.00" x2="361.80" y2="392.00" stroke="#151515" stroke-width="1.25" />
<circle cx="339.70" cy="396.60" r="1.25" fill="#151515"/>
<circle cx="344.00" cy="396.60" r="1.25" fill="#151515"/>
<circle cx="348.30" cy="396.60" r="1.25" fill="#151515"/>
<text x="257.30" y="475.50" font-size="8.2" text-anchor="middle" fill="#151515" >Ctrl</text>
<text x="291.20" y="475.50" font-size="8.2" text-anchor="middle" fill="#151515" >GCSF</text>
<text x="325.50" y="475.50" font-size="8.2" text-anchor="middle" fill="#151515" >Abx</text>
<text x="359.70" y="475.50" font-size="8.2" text-anchor="middle" fill="#151515" >GCSF</text>
<text x="291.20" y="485.50" font-size="8.2" text-anchor="middle" fill="#151515" >Ctrl</text>
<text x="359.70" y="485.50" font-size="8.2" text-anchor="middle" fill="#151515" >Abx</text>
<text transform="translate(217.50,416.00) rotate(-90)" font-size="9.2" text-anchor="middle" fill="#151515">%WBM</text></svg></body></html>
